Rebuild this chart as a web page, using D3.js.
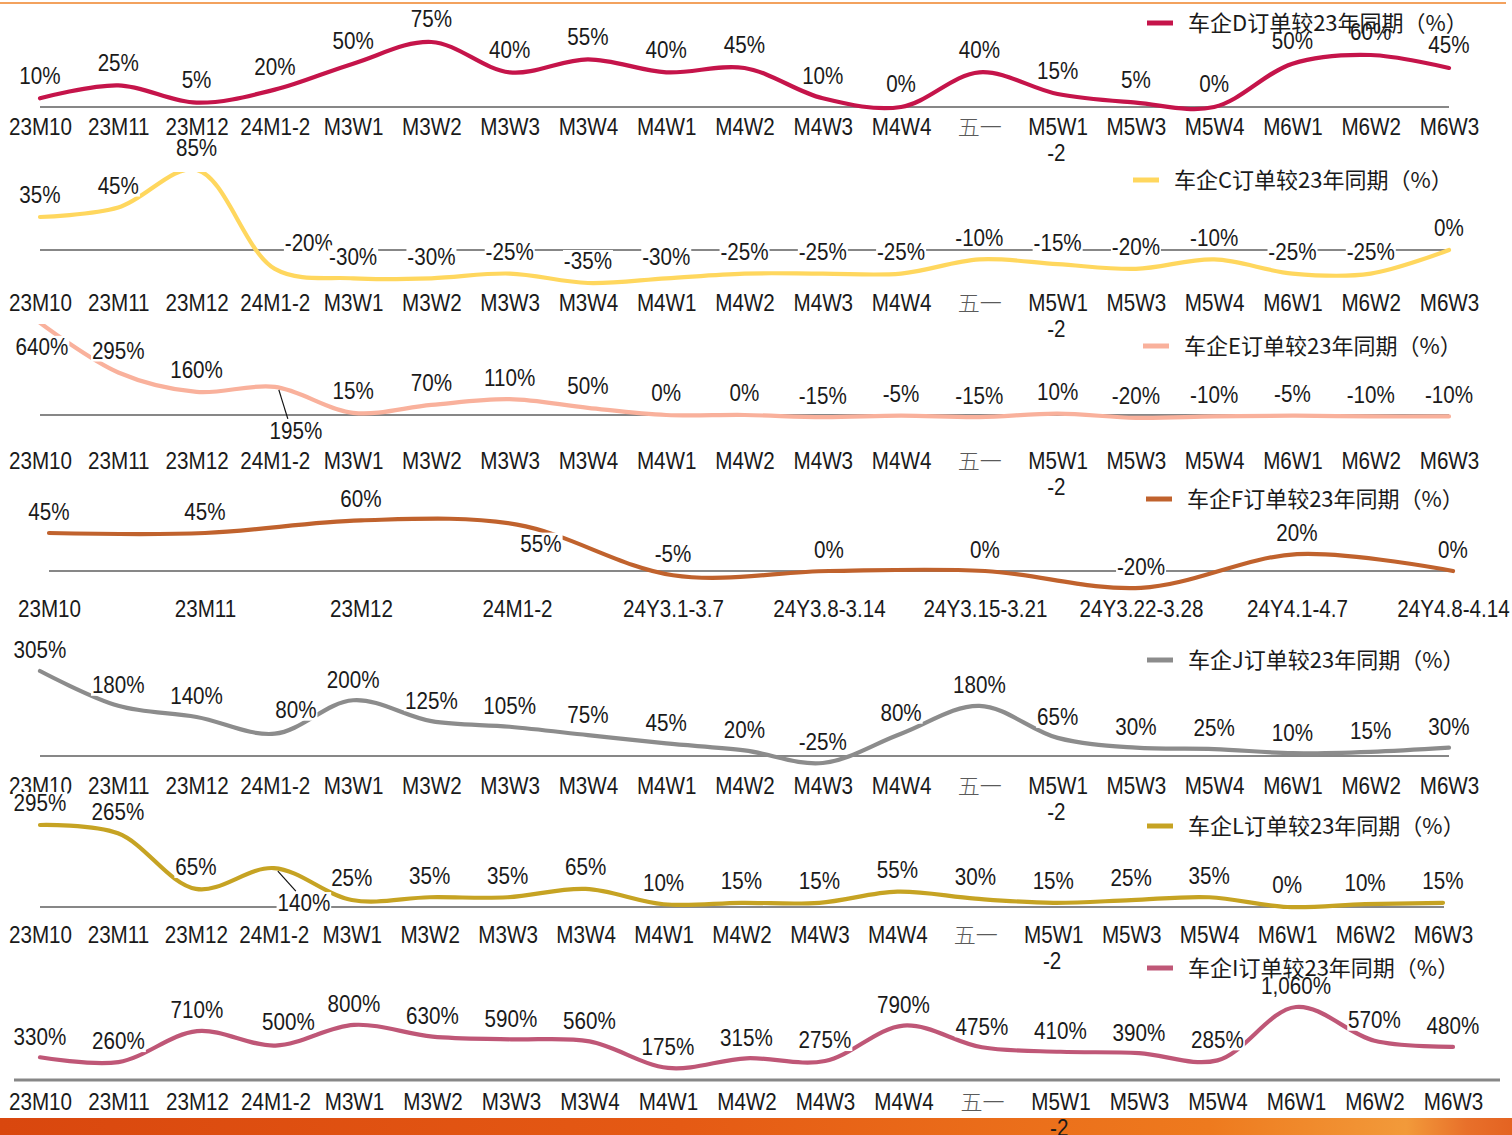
<!DOCTYPE html>
<html>
<head>
<meta charset="utf-8">
<script src="https://cdn.jsdelivr.net/npm/d3@7"></script>
<style>
html,body{margin:0;padding:0;background:#fff;}
svg{display:block;}
.lbl{font-family:"Liberation Sans","Arial",sans-serif;font-size:24px;fill:#1a1a1a;}
.tick text{font-family:"Liberation Sans","Arial",sans-serif;font-size:24px;fill:#1a1a1a;}
.leg{font-family:"Noto Sans CJK SC",sans-serif;font-size:22px;fill:#1a1a1a;}
</style>
</head>
<body>
<svg id="chart" width="1512" height="1135"></svg>
<script>
// ---------- data ----------
const catsWeekly = ["23M10","23M11","23M12","24M1-2","M3W1","M3W2","M3W3","M3W4","M4W1","M4W2","M4W3","M4W4","五一","M5W1-2","M5W3","M5W4","M6W1","M6W2","M6W3"];
const catsF = ["23M10","23M11","23M12","24M1-2","24Y3.1-3.7","24Y3.8-3.14","24Y3.15-3.21","24Y3.22-3.28","24Y4.1-4.7","24Y4.8-4.14"];

const nameD = "车企D订单较23年同期（%）";
const nameC = "车企C订单较23年同期（%）";
const nameE = "车企E订单较23年同期（%）";
const nameF = "车企F订单较23年同期（%）";
const nameJ = "车企J订单较23年同期（%）";
const nameL = "车企L订单较23年同期（%）";
const nameI = "车企I订单较23年同期（%）";

const valuesD = [10,25,5,20,50,75,40,55,40,45,10,0,40,15,5,0,50,60,45];
const valuesC = [35,45,85,-20,-30,-30,-25,-35,-30,-25,-25,-25,-10,-15,-20,-10,-25,-25,0];
const valuesE = [640,295,160,195,15,70,110,50,0,0,-15,-5,-15,10,-20,-10,-5,-10,-10];
const valuesF = [45,45,60,55,-5,0,0,-20,20,0];
const valuesJ = [305,180,140,80,200,125,105,75,45,20,-25,80,180,65,30,25,10,15,30];
const valuesL = [295,265,65,140,25,35,35,65,10,15,15,55,30,15,25,35,0,10,15];
const valuesI = [330,260,710,500,800,630,590,560,175,315,275,790,475,410,390,285,1060,570,480];

// ---------- layout / style ----------
const SX = 0.86; // horizontal condensing of latin text
const panels = [
  {name:nameD, cats:catsWeekly, values:valuesD, color:"#C5144A", xr:[40,1449], zeroY:107, px:0.867, axisY:127, leg:[1147,23], base:[40,1449], bw:2, lo:-23, nudge:{}},
  {name:nameC, cats:catsWeekly, values:valuesC, color:"#FFD75E", xr:[40,1449], zeroY:250, px:0.943, axisY:303, leg:[1133,180], base:[40,1449], bw:2, lo:-22, clipTop:172,
    nudge:{3:{dx:34,dy:-26}}},
  {name:nameE, cats:catsWeekly, values:valuesE, color:"#F9B19C", xr:[40,1449], zeroY:415, px:0.144, axisY:461, leg:[1143,346], base:[40,1449], bw:2, lo:-22, clipTop:324,
    nudge:{0:{dx:2,dy:24}, 3:{dx:21,dy:44,leader:true}}},
  {name:nameF, cats:catsF, values:valuesF, color:"#C0622D", xr:[49,1453], zeroY:571, px:0.844, axisY:609, leg:[1146,499], base:[49,1453], bw:2, lo:-21.5,
    nudge:{3:{dx:24,dy:19}}},
  {name:nameJ, cats:catsWeekly, values:valuesJ, color:"#8C8C8C", xr:[40,1449], zeroY:756, px:0.2787, axisY:786, leg:[1147,660], base:[40,1449], bw:2, lo:-21,
    nudge:{3:{dx:21,dy:-24}}},
  {name:nameL, cats:catsWeekly, values:valuesL, color:"#C6A323", xr:[40,1443], zeroY:907, px:0.278, axisY:935, leg:[1147,826], base:[40,1444], bw:2, lo:-22,
    nudge:{3:{dx:30,dy:35,leader:true}}},
  {name:nameI, cats:catsWeekly, values:valuesI, color:"#BF5777", xr:[40,1453], zeroY:1080, px:0.0689, axisY:1102, leg:[1147,968], base:[14,1500], bw:3, lo:-21,
    nudge:{3:{dx:13,dy:-24}}}
];

const svg = d3.select("#chart");
const defs = svg.append("defs");

// top thin orange rule
svg.append("line").attr("x1",0).attr("x2",1506).attr("y1",3).attr("y2",3)
  .attr("stroke","#F3A25E").attr("stroke-width",2);

// bottom band
const grad = defs.append("linearGradient").attr("id","band").attr("x1","0").attr("x2","1").attr("y1","0").attr("y2","0");
[["0","#D9470E"],["0.45","#E55A14"],["0.8","#EE7A1E"],["0.93","#F29A3A"],["0.97","#E8702A"],["1","#E46322"]]
  .forEach(([o,c])=>grad.append("stop").attr("offset",o).attr("stop-color",c));
svg.append("rect").attr("x",0).attr("y",1118).attr("width",1512).attr("height",17).attr("fill","url(#band)");

const fmt = v => d3.format(",")(v).replace("\u2212","-") + "%";

panels.forEach((p, pi) => {
  const g = svg.append("g");
  const x = d3.scalePoint().domain(p.cats).range(p.xr);
  const y = d3.scaleLinear().domain([0,100]).range([p.zeroY, p.zeroY - 100*p.px]);

  // zero line
  g.append("line").attr("x1",p.base[0]).attr("x2",p.base[1])
    .attr("y1",y(0)).attr("y2",y(0)).attr("stroke","#878787").attr("stroke-width",p.bw);

  // axis labels
  const ax = g.append("g").attr("transform",`translate(0,${p.axisY})`)
    .call(d3.axisBottom(x).tickSize(0).tickPadding(0));
  ax.select(".domain").remove();
  ax.selectAll(".tick text").each(function(d){
    const t = d3.select(this);
    t.attr("y",0).attr("dy","0.35em");
    if (/[\u4e00-\u9fff]/.test(d)) {
      t.style("font-family","'Noto Sans CJK SC',sans-serif").style("font-size","22px")
       .style("font-weight","300").style("fill","#5a5a5a");
    } else {
      t.attr("transform",`scale(${SX},1)`);
    }
    if (d === "M5W1-2") {
      t.text(null);
      t.append("tspan").attr("x",0).attr("dy","0.35em").text("M5W1");
      t.append("tspan").attr("x",-2).attr("dy","26").text("-2");
    }
  });

  // line
  if (p.clipTop !== undefined) {
    defs.append("clipPath").attr("id","clip"+pi).append("rect")
      .attr("x",0).attr("y",p.clipTop).attr("width",1512).attr("height",400);
  }
  const line = d3.line().x((d,i)=>x(p.cats[i])).y(d=>y(d)).curve(d3.curveCatmullRom.alpha(0.5));
  g.append("path").datum(p.values).attr("d",line).attr("fill","none")
    .attr("stroke",p.color).attr("stroke-width",4.2).attr("stroke-linecap","round")
    .attr("clip-path", p.clipTop !== undefined ? `url(#clip${pi})` : null);

  // data labels (white filled boxes)
  p.values.forEach((v,i)=>{
    const px = x(p.cats[i]), py = y(v);
    const n = p.nudge[i];
    const lx = px + (n ? n.dx : 0);
    const ly = py + (n ? n.dy : p.lo);
    if (n && n.leader) {
      g.append("line").attr("x1",px+4).attr("y1",py+3).attr("x2",lx-8).attr("y2",ly-12)
        .attr("stroke","#111").attr("stroke-width",1.2);
    }
    const lg = g.append("g").attr("transform",`translate(${lx},${ly}) scale(${SX},1)`);
    const tx = lg.append("text").attr("class","lbl").attr("x",0).attr("y",0)
      .attr("text-anchor","middle").attr("dy","0.35em").text(fmt(v));
    const bb = tx.node().getBBox();
    lg.insert("rect","text").attr("x",bb.x-1).attr("y",-11).attr("width",bb.width+2).attr("height",22).attr("fill","#fff");
  });
});

// legends on top
panels.forEach(p=>{
  const lg = svg.append("g");
  lg.append("line").attr("x1",p.leg[0]).attr("x2",p.leg[0]+26).attr("y1",p.leg[1]).attr("y2",p.leg[1])
    .attr("stroke",p.color).attr("stroke-width",5);
  lg.append("text").attr("class","leg").attr("x",p.leg[0]+41).attr("y",p.leg[1]).attr("dy","0.35em").text(p.name);
});
</script>
</body>
</html>
